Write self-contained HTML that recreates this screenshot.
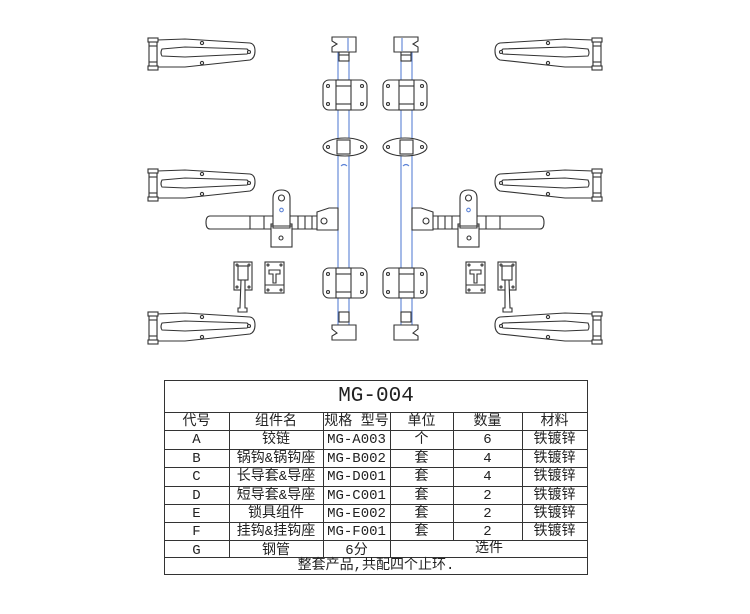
<!DOCTYPE html>
<html><head><meta charset="utf-8"><style>
body{margin:0;background:#fff;width:750px;height:614px;overflow:hidden;position:relative;font-family:"Liberation Mono","Noto Sans CJK SC",monospace;}
.t{position:absolute;color:#222;font-size:14px;text-align:center;line-height:18.4px;}
.t span{display:block;height:18.4px;line-height:18.4px;overflow:visible;white-space:nowrap;}
.hl{position:absolute;height:1px;background:#333;}
.vl{position:absolute;width:1px;background:#333;}
</style></head><body>
<svg width="750" height="370" style="position:absolute;left:0;top:0" xmlns="http://www.w3.org/2000/svg">
<defs>
<g id="hinge" fill="#fff" stroke="#333" stroke-width="1.1">
  <path d="M157,40 L185,39 L250,43 Q255,44 255,51 Q255,58 250,60 L185,67 L157,67 Z"/>
  <path d="M162,49 L185,47 L247,49 Q250,51 247,54 L185,57 L162,56 Q160,53 162,49 Z"/>
  <circle cx="202" cy="43" r="1.6"/><circle cx="202" cy="63" r="1.6"/><circle cx="249" cy="52" r="1.5"/>
  <rect x="149" y="40" width="8" height="28"/>
  <rect x="148" y="38" width="10" height="4"/><rect x="148" y="66" width="10" height="4"/>
  <line x1="149" y1="46" x2="157" y2="46"/><line x1="149" y1="62" x2="157" y2="62"/>
</g>
<g id="half" fill="#fff" stroke="#333" stroke-width="1.1">
  <use href="#hinge"/>
  <use href="#hinge" transform="translate(0,131)"/>
  <use href="#hinge" transform="translate(0,274)"/>
  <line x1="338" y1="52" x2="338" y2="325" stroke="#5b82d6"/>
  <line x1="349" y1="52" x2="349" y2="325" stroke="#5b82d6"/>
  <path d="M332,37 L356,37 L356,52 L332,52 L332,47 L337,44 L332,41 Z"/>
  <line x1="348" y1="38" x2="348" y2="51" stroke="#5b82d6"/>
  <rect x="339" y="52" width="10" height="9"/>
  <line x1="339" y1="55" x2="349" y2="55"/>
  <rect x="323" y="80" width="44" height="30" rx="6"/>
  <rect x="336" y="80" width="15" height="30"/>
  <line x1="336" y1="86" x2="351" y2="86"/><line x1="336" y1="104" x2="351" y2="104"/>
  <circle cx="328" cy="86" r="1.5"/><circle cx="362" cy="86" r="1.5"/><circle cx="328" cy="104" r="1.5"/><circle cx="362" cy="104" r="1.5"/>
  <ellipse cx="345" cy="147" rx="22" ry="9"/>
  <rect x="337" y="140" width="13" height="14"/>
  <circle cx="328" cy="147" r="1.5"/><circle cx="362" cy="147" r="1.5"/>
  <path d="M341,166 Q344,163 347,166" fill="none" stroke="#5b82d6"/>
  <rect x="323" y="268" width="44" height="30" rx="6"/>
  <rect x="336" y="268" width="15" height="30"/>
  <line x1="336" y1="274" x2="351" y2="274"/><line x1="336" y1="292" x2="351" y2="292"/>
  <circle cx="328" cy="274" r="1.5"/><circle cx="362" cy="274" r="1.5"/><circle cx="328" cy="292" r="1.5"/><circle cx="362" cy="292" r="1.5"/>
  <rect x="339" y="312" width="10" height="10"/>
  <path d="M332,325 L356,325 L356,340 L332,340 L332,336 L337,333 L332,329 Z"/>
  <path d="M210,216 L335,216 L335,229 L210,229 Q206,229 206,222.5 Q206,216 210,216 Z"/>
  <line x1="250" y1="216" x2="250" y2="229"/><line x1="264" y1="216" x2="264" y2="229"/>
  <line x1="298" y1="216" x2="298" y2="229"/><line x1="305" y1="216" x2="305" y2="229"/><line x1="312" y1="216" x2="312" y2="229"/>
  <path d="M317,212 L329,208 L338,208 L338,230 L317,230 Z"/>
  <circle cx="324" cy="221" r="3"/>
  <rect x="271" y="224" width="21" height="23"/>
  <circle cx="281" cy="238" r="2"/>
  <path d="M273,228 L273,198 Q273,190 281.5,190 Q290,190 290,198 L290,228 Z"/>
  <circle cx="281.5" cy="198" r="3"/><circle cx="281.5" cy="210" r="1.8" stroke="#5b82d6"/>
  <line x1="271" y1="226" x2="292" y2="226"/>
  <rect x="234" y="262" width="18" height="28"/>
  <rect x="238" y="266" width="10" height="14"/>
  <circle cx="237" cy="265" r="1"/><circle cx="249" cy="265" r="1"/><circle cx="237" cy="287" r="1"/><circle cx="249" cy="287" r="1"/>
  <path d="M241,280 L245,280 L245,308 L247,308 L247,312 L238,312 L238,308 L240,308 Z"/>
  <rect x="265" y="262" width="19" height="31"/>
  <path d="M269,270 L280,270 L280,274 L276,274 L276,283 L273,283 L273,274 L269,274 Z"/>
  <circle cx="268" cy="265" r="1"/><circle cx="281" cy="265" r="1"/><circle cx="268" cy="290" r="1"/><circle cx="281" cy="290" r="1"/>
  <line x1="265" y1="285" x2="284" y2="285"/>
</g>
</defs>
<use href="#half"/>
<use href="#half" transform="translate(750,0) scale(-1,1)"/>
</svg>

<div style="position:absolute;left:164px;top:380px;width:422px;height:193px;border:1px solid #333;"></div>
<div class="hl" style="left:164px;top:412px;width:424px"></div>
<div class="hl" style="left:164px;top:430px;width:424px"></div>
<div class="hl" style="left:164px;top:449px;width:424px"></div>
<div class="hl" style="left:164px;top:467px;width:424px"></div>
<div class="hl" style="left:164px;top:486px;width:424px"></div>
<div class="hl" style="left:164px;top:504px;width:424px"></div>
<div class="hl" style="left:164px;top:522px;width:424px"></div>
<div class="hl" style="left:164px;top:540px;width:424px"></div>
<div class="hl" style="left:164px;top:557px;width:424px"></div>
<div class="vl" style="left:229px;top:412px;height:145px"></div>
<div class="vl" style="left:323px;top:412px;height:145px"></div>
<div class="vl" style="left:390px;top:412px;height:145px"></div>
<div class="vl" style="left:453px;top:412px;height:128px"></div>
<div class="vl" style="left:522px;top:412px;height:128px"></div>
<div class="t" style="left:164px;top:385px;width:424px;font-size:21px;line-height:24px">MG-004</div>
<div class="t" style="left:164px;top:413px;width:65px"><span>代号</span><span>A</span><span>B</span><span>C</span><span>D</span><span>E</span><span>F</span><span>G</span></div>
<div class="t" style="left:229px;top:413px;width:94px"><span>组件名</span><span>铰链</span><span>锅钩&amp;锅钩座</span><span>长导套&amp;导座</span><span>短导套&amp;导座</span><span>锁具组件</span><span>挂钩&amp;挂钩座</span><span>钢管</span></div>
<div class="t" style="left:323px;top:413px;width:67px"><span>规格 型号</span><span>MG-A003</span><span>MG-B002</span><span>MG-D001</span><span>MG-C001</span><span>MG-E002</span><span>MG-F001</span><span>6分</span></div>
<div class="t" style="left:390px;top:413px;width:63px"><span>单位</span><span>个</span><span>套</span><span>套</span><span>套</span><span>套</span><span>套</span></div>
<div class="t" style="left:453px;top:413px;width:69px"><span>数量</span><span>6</span><span>4</span><span>4</span><span>2</span><span>2</span><span>2</span></div>
<div class="t" style="left:522px;top:413px;width:65px"><span>材料</span><span>铁镀锌</span><span>铁镀锌</span><span>铁镀锌</span><span>铁镀锌</span><span>铁镀锌</span><span>铁镀锌</span></div>
<div class="t" style="left:390px;top:540px;width:198px"><span>选件</span></div>
<div class="t" style="left:164px;top:557px;width:424px"><span>整套产品,共配四个止环.</span></div>
</body></html>
